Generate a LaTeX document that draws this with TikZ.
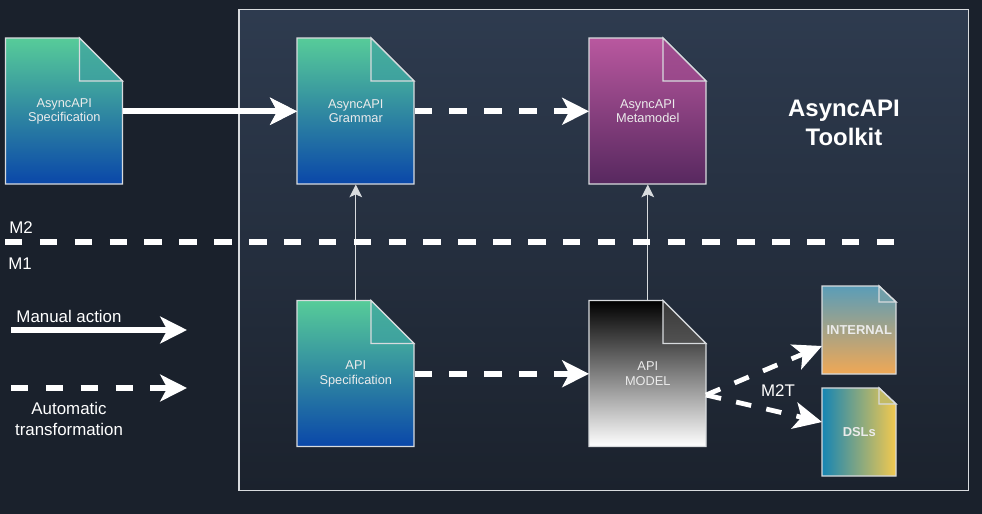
\documentclass[tikz,border=0pt]{standalone}
\usepackage{fontspec}
\setmainfont{Liberation Sans}
\usetikzlibrary{arrows.meta}
\definecolor{pagebg}{HTML}{1A212C}
\definecolor{boxtop}{HTML}{2E3B4F}
\definecolor{boxbot}{HTML}{1B222D}
\definecolor{edge}{HTML}{D8DBDE}
\definecolor{greentop}{HTML}{57CC99}
\definecolor{bluebot}{HTML}{0A47A9}
\definecolor{pinktop}{HTML}{B9589F}
\definecolor{purplebot}{HTML}{57285F}
\definecolor{inttop}{HTML}{5A9DB8}
\definecolor{intbot}{HTML}{F0A855}
\definecolor{dslleft}{HTML}{1685B3}
\definecolor{dslright}{HTML}{F3C94F}
\tikzset{
    doctext/.style={text=white!92!black, align=center, font=\fontsize{9.1}{10.4}\selectfont, inner sep=0pt},
    smalltext/.style={text=white!92!black, align=center, font=\fontsize{9.2}{11}\selectfont\bfseries, inner sep=0pt},
    label/.style={text=white, align=center, font=\fontsize{12}{14.6}\selectfont, inner sep=0pt},
    manual/.style={white, line width=4.2pt, -{Stealth[length=19pt, width=19pt, inset=5pt]}},
    auto/.style={white, line width=4.2pt, dash pattern=on 12.4pt off 12.4pt, -{Stealth[length=19pt, width=19pt, inset=5pt]}},
    autosmall/.style={white, line width=3.4pt, dash pattern=on 11pt off 11pt, -{Stealth[length=20pt, width=19pt, inset=5pt]}},
    thinarrow/.style={edge, line width=1pt, -{Stealth[length=9pt, width=9pt, inset=2pt]}},
}
\begin{document}
\begin{tikzpicture}[x=0.025cm, y=-0.025cm]
    \useasboundingbox (0,0) rectangle (982,514);
    \fill[pagebg] (0,0) rectangle (982,514);
    \draw[edge, line width=1pt, top color=boxtop, bottom color=boxbot] (239,9.5) rectangle (968.5,490.5);

    % large documents
    \foreach \name/\x/\y/\ctop/\cbot/\txt in {
            aspec/5.5/38/greentop/bluebot/{AsyncAPI\\Specification},
            grammar/297/38/greentop/bluebot/{AsyncAPI\\Grammar},
            meta/589/38/pinktop/purplebot/{AsyncAPI\\Metamodel},
            apispec/297/300.5/greentop/bluebot/{API\\Specification},
            model/589/300.5/black/white/{API\\MODEL}} {
            \draw[edge, line width=1pt, top color=\ctop, bottom color=\cbot]
                (\x,\y) -- ++(74,0) -- ++(43,43) -- ++(0,103) -- ++(-117,0) -- cycle;
            \draw[edge, line width=1pt, top color=\ctop!78!\cbot, bottom color=\ctop!68!\cbot]
                (\x+74,\y) -- (\x+117,\y+43) -- (\x+74,\y+43) -- cycle;
            \node[doctext, minimum width=117*0.025cm, minimum height=146*0.025cm, anchor=north west] (\name) at (\x,\y) {\txt};
        }

    % small documents
    \draw[edge, line width=1pt, top color=inttop, bottom color=intbot]
        (822,286) -- ++(57,0) -- ++(17,16) -- ++(0,72) -- ++(-74,0) -- cycle;
    \draw[edge, line width=1pt, fill=inttop!85!intbot] (879,286) -- (896,302) -- (879,302) -- cycle;
    \node[smalltext, minimum width=74*0.025cm, minimum height=88*0.025cm, anchor=north west] (internal) at (822,286) {INTERNAL};
    \draw[edge, line width=1pt, left color=dslleft, right color=dslright]
        (822,388) -- ++(57,0) -- ++(17,16) -- ++(0,72) -- ++(-74,0) -- cycle;
    \draw[edge, line width=1pt, fill=dslleft!22!dslright] (879,388) -- (896,404) -- (879,404) -- cycle;
    \node[smalltext, minimum width=74*0.025cm, minimum height=88*0.025cm, anchor=north west] (dsls) at (822,388) {DSLs};

    % connectors
    \draw[manual] (aspec) -- (grammar);
    \draw[manual] (aspec.east) -- (grammar.west);
    \draw[auto] (grammar.east) -- (meta.west);
    \draw[auto] (apispec.east) -- (model.west);
    \draw[thinarrow] (apispec.north) -- (grammar.south);
    \draw[thinarrow] (model.north) -- (meta.south);
    \coordinate (m2tstart) at (706,395);
    \coordinate (m2tint) at (822,346);
    \coordinate (m2tdsl) at (822,422);
    \draw[autosmall] (m2tstart) -- (m2tint);
    \draw[autosmall] (m2tstart) -- (m2tdsl);

    % level line and legend
    \coordinate (levelA) at (5,242);
    \coordinate (levelB) at (900,242);
    \draw[white, line width=4.2pt, dash pattern=on 12.4pt off 12.4pt] (levelA) -- (levelB);
    \coordinate (manA) at (11,330);
    \coordinate (manB) at (187,330);
    \draw[manual] (manA) -- (manB);
    \coordinate (autoA) at (11,388);
    \coordinate (autoB) at (187,388);
    \draw[auto] (autoA) -- (autoB);

    % labels
    \node[label] (m2) at (21,228) {M2};
    \node[label] (m1) at (20,264) {M1};
    \node[label] (manual) at (69,316) {Manual action};
    \node[label] (automatic) at (69,419) {Automatic\\transformation};
    \node[label] (m2t) at (778,391) {M2T};
    \node[label, font=\fontsize{17}{20.5}\selectfont\bfseries] (toolkit) at (844,123) {AsyncAPI\\Toolkit};
\end{tikzpicture}
\end{document}
